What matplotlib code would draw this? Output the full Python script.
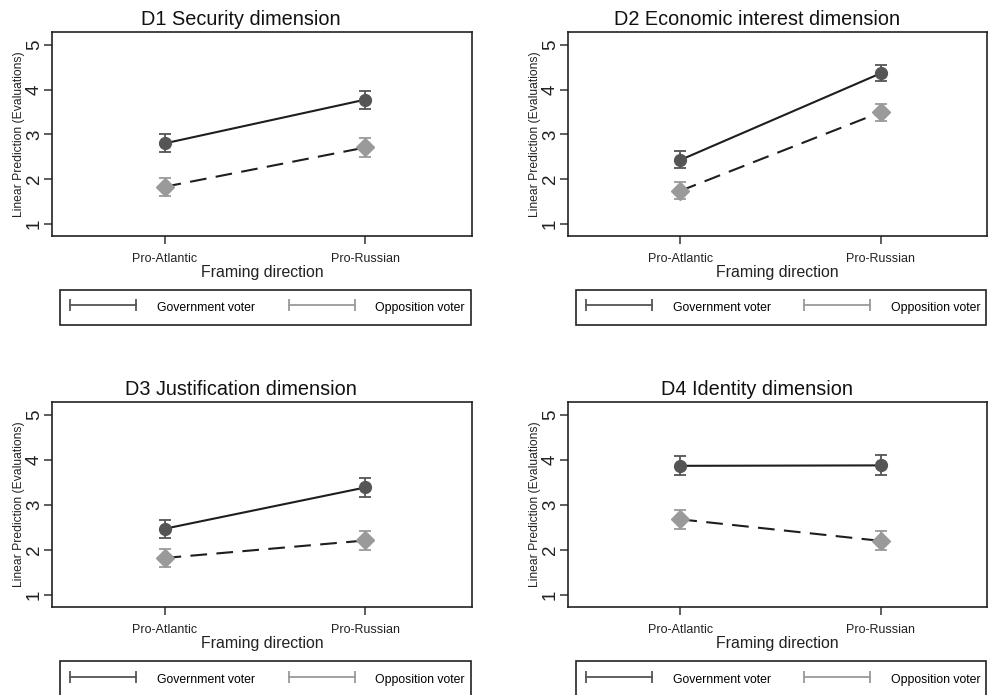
import numpy as np
import matplotlib.pyplot as plt
from matplotlib.lines import Line2D
from matplotlib.legend_handler import HandlerLine2D

plt.rcParams['font.family'] = ['Liberation Sans', 'DejaVu Sans']

titles = ['D1 Security dimension', 'D2 Economic interest dimension',
          'D3 Justification dimension', 'D4 Identity dimension']
framing = ['Pro-Atlantic', 'Pro-Russian']

gov_mean = [[2.80, 3.78], [2.43, 4.37], [2.47, 3.39], [3.87, 3.88]]
gov_ci = [[0.20, 0.20], [0.19, 0.18], [0.20, 0.21], [0.21, 0.22]]
opp_mean = [[1.83, 2.71], [1.74, 3.50], [1.82, 2.21], [2.68, 2.20]]
opp_ci = [[0.20, 0.21], [0.19, 0.19], [0.20, 0.21], [0.21, 0.21]]

DARK = '#555555'
LIGHT = '#9a9a9a'
LINE = '#1e1e1e'


class LevelLine(HandlerLine2D):
    # tall legend row, but keep the rcap handle level with the label text
    def create_artists(self, legend, orig_handle, xdescent, ydescent,
                       width, height, fontsize, trans):
        arts = super().create_artists(legend, orig_handle, xdescent, ydescent,
                                      width, height, fontsize, trans)
        y0 = (1.6 * fontsize - ydescent) / 2
        for a in arts:
            a.set_ydata(np.full(len(a.get_xdata()), y0))
        return arts


fig = plt.figure(figsize=(9.89, 6.95), dpi=100)

# axes boxes in figure fractions (left, bottom, width, height)
boxes = [
    (0.0526, 0.6604, 0.4246, 0.2935),
    (0.5743, 0.6604, 0.4240, 0.2935),
    (0.0526, 0.1266, 0.4246, 0.2950),
    (0.5743, 0.1266, 0.4240, 0.2950),
]

for i, box in enumerate(boxes):
    ax = fig.add_axes(box)
    x = list(range(len(framing)))

    # government voter: solid line, dark circles
    ax.plot(x, gov_mean[i], color=LINE, lw=1.5, zorder=2)
    ax.errorbar(x, gov_mean[i], yerr=gov_ci[i], fmt='none', ecolor=DARK,
                elinewidth=1.3, capsize=4, capthick=1.3, zorder=3)
    ax.plot(x, gov_mean[i], 'o', color=DARK, ms=8.5, zorder=4)

    # opposition voter: dashed line, light diamonds
    ax.plot(x, opp_mean[i], color=LINE, lw=1.5, dashes=(8, 4.5), zorder=2)
    ax.errorbar(x, opp_mean[i], yerr=opp_ci[i], fmt='none', ecolor=LIGHT,
                elinewidth=1.3, capsize=4, capthick=1.3, zorder=3)
    ax.plot(x, opp_mean[i], 'D', color=LIGHT, ms=9.5, zorder=4)

    ax.set_xlim(-0.56, 1.53)
    ax.set_ylim(0.73, 5.29)
    ax.set_xticks(x)
    ax.set_xticklabels(framing, fontsize=9, color='#222222')
    ax.set_yticks([1, 2, 3, 4, 5])
    ax.set_yticklabels(['1', '2', '3', '4', '5'], rotation=90, va='center',
                       fontsize=13.5, color='#222222')
    ax.tick_params(axis='y', length=6, width=1.1, pad=0.5, color='#333333')
    ax.tick_params(axis='x', length=6, width=1.1, pad=6, color='#333333')
    for sp in ax.spines.values():
        sp.set_linewidth(1.2)
        sp.set_color('#222222')

    # Stata centres the title over the whole panel, not just the plot box
    ax.set_title(titles[i], fontsize=14.3, pad=5, color='#111111', x=0.45)
    ax.set_xlabel('Framing direction', fontsize=11.4, labelpad=0, color='#222222')
    ax.set_ylabel('Linear Prediction (Evaluations)', fontsize=8.7, labelpad=1,
                  color='#222222')

    handles = [
        Line2D([0], [0], color=DARK, lw=1.3, marker='|', ms=9, mew=1.3),
        Line2D([0], [0], color=LIGHT, lw=1.3, marker='|', ms=9, mew=1.3),
    ]
    leg = ax.legend(handles, ['Government voter', 'Opposition voter'],
                    ncol=2, mode='expand', fontsize=8.8,
                    handler_map={Line2D: LevelLine(numpoints=2)},
                    bbox_to_anchor=(0.019, -0.445, 0.979, 0.18),
                    loc='upper center', handlelength=6.0, handletextpad=1.4,
                    handleheight=2.5, borderaxespad=0, fancybox=False,
                    framealpha=1, edgecolor='#222222', borderpad=0.5)
    leg.get_frame().set_linewidth(1.2)

plt.savefig('out.png', dpi=100)
